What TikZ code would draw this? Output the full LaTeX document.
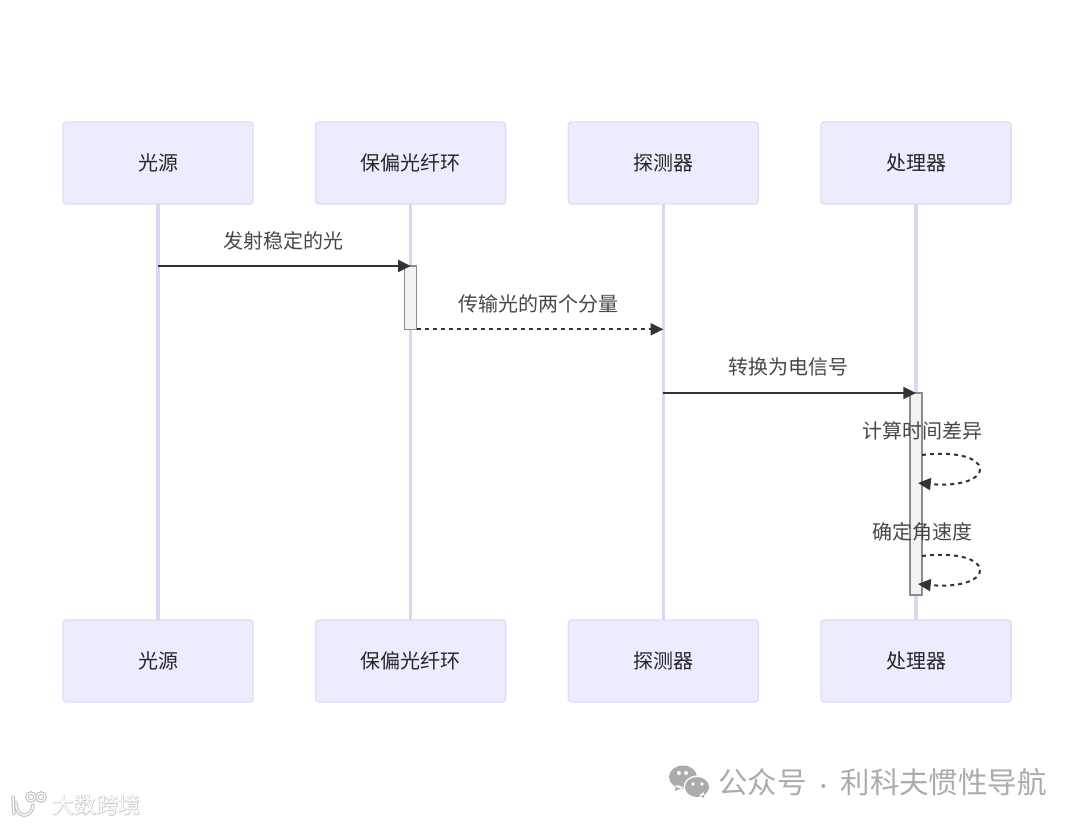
\documentclass[tikz,border=0pt]{standalone}
\usepackage{fontspec}
\setmainfont{Noto Sans CJK SC}
\usepackage{tikz}
\usetikzlibrary{arrows.meta, positioning}
\definecolor{boxfill}{HTML}{ECECFF}
\definecolor{boxline}{HTML}{E1DBF5}
\definecolor{lifeline}{HTML}{DDD6F3}
\definecolor{msgcolor}{HTML}{333333}
\definecolor{markgray}{HTML}{ABABAB}

\begin{document}
\begin{tikzpicture}[
        x=0.75pt,
        y=-0.75pt,
        actor_box/.style={
            draw=boxline,
            fill=boxfill,
            rectangle,
            rounded corners=2.5pt,
            line width=1.1pt,
            minimum width=142.5pt,
            minimum height=61.5pt,
            inner sep=0pt,
            outer sep=0pt,
            text=black!85,
            font=\fontsize{15}{18}\selectfont
        },
        life_line/.style={
            draw=lifeline,
            line width=2.6pt
        },
        act_box/.style={
            draw=black!45,
            fill=black!5,
            rectangle,
            line width=1pt,
            minimum width=9pt,
            inner sep=0pt,
            outer sep=0pt
        },
        msg_arrow/.style={
            -{Triangle[length=9.5pt,width=9pt]},
            draw=msgcolor,
            color=msgcolor,
            line width=1.5pt
        },
        msg_dash/.style={
            msg_arrow,
            dash pattern=on 3pt off 3pt
        },
        msg_label/.style={
            inner sep=0pt,
            text=msgcolor!90,
            font=\fontsize{15}{18}\selectfont
        }
    ]
        \useasboundingbox (0,0) rectangle (1080,825);

        % top row
        \node[actor_box] (src_top) at (158,163) {光源};
        \node[actor_box, right=47pt of src_top] (ring_top) {保偏光纤环};
        \node[actor_box, right=47pt of ring_top] (det_top) {探测器};
        \node[actor_box, right=47pt of det_top] (proc_top) {处理器};

        % bottom row
        \node[actor_box, below=312pt of src_top] (src_bot) {光源};
        \node[actor_box, below=312pt of ring_top] (ring_bot) {保偏光纤环};
        \node[actor_box, below=312pt of det_top] (det_bot) {探测器};
        \node[actor_box, below=312pt of proc_top] (proc_bot) {处理器};

        \draw[life_line] (src_top) -- (src_bot);
        \draw[life_line] (ring_top) -- (ring_bot);
        \draw[life_line] (det_top) -- (det_bot);
        \draw[life_line] (proc_top) -- (proc_bot);

        % activations
        \node[act_box, minimum height=47.5pt, anchor=north] (ring_act) at (ring_top |- 0,266) {};
        \node[act_box, minimum height=151.5pt, anchor=north] (proc_act) at (proc_top |- 0,393) {};

        % messages
        \coordinate (m1_from) at (src_top |- ring_act.north);
        \coordinate (m1_to) at (ring_top |- ring_act.north);
        \coordinate (m2_from) at (ring_act.south east);
        \coordinate (m2_to) at (det_top |- ring_act.south);
        \coordinate (m3_from) at (det_top |- proc_act.north);
        \coordinate (m3_to) at (proc_top |- proc_act.north);
        \draw[msg_arrow] (m1_from) -- (m1_to);
        \draw[msg_dash] (m2_from) -- (m2_to);
        \draw[msg_arrow] (m3_from) -- (m3_to);

        \node[msg_label] (m1_text) at (283,241) {发射稳定的光};
        \node[msg_label] (m2_text) at (538,304) {传输光的两个分量};
        \node[msg_label] (m3_text) at (788,367) {转换为电信号};

        % self calls
        \coordinate (s1_from) at (922,455);
        \coordinate (s1_to) at (918,483);
        \coordinate (s2_from) at (922,556);
        \coordinate (s2_to) at (918,584);
        \node[msg_label] (s1_text) at (922,431) {计算时间差异};
        \node[msg_label] (s2_text) at (922,532) {确定角速度};
        \draw[msg_dash] (s1_from) .. controls (998,446) and (998,490) .. (s1_to);
        \draw[msg_dash] (s2_from) .. controls (998,547) and (998,591) .. (s2_to);

        % watermarks
        \fill[markgray] (683,777) circle[x radius=14, y radius=11.5] (676,785) -- (675,791) -- (684,787) -- cycle;
        \fill[white] (697,787) circle[x radius=13.5, y radius=11.5];
        \fill[markgray] (697,787) circle[x radius=12, y radius=10] (699,795) -- (704,798) -- (704,792) -- cycle;
        \fill[white] (679,773) circle[radius=2] (686,773) circle[radius=2] (693,784) circle[radius=1.8] (702,784) circle[radius=1.8];
        \node[inner sep=0pt, anchor=west, text=markgray, font=\fontsize{22.1}{26}\selectfont] (mark_text) at (718,782) {公众号\hspace{5.7pt}{\fontsize{14}{14}\selectfont ·}\hspace{5.7pt}利科夫惯性导航};

        \node[inner sep=0pt, anchor=west, text=black!25, font=\fontsize{16.5}{20}\selectfont] (site_back) at (52,805) {\addfontfeature{FakeBold=3}大数跨境};
        \node[inner sep=0pt, anchor=west, text=white, font=\fontsize{16.5}{20}\selectfont] (site_text) at (52,805) {大数跨境};
        \draw[black!25, line width=2.6pt, line cap=round] (13,797) -- (14,814) (16,802) .. controls (15,819) and (32,819) .. (33,805) (31,797) circle[radius=4] (41,797) circle[radius=4];
        \draw[white, line width=1pt, line cap=round] (13,797) -- (14,814) (16,802) .. controls (15,819) and (32,819) .. (33,805) (31,797) circle[radius=4] (41,797) circle[radius=4];
    \end{tikzpicture}
\end{document}
